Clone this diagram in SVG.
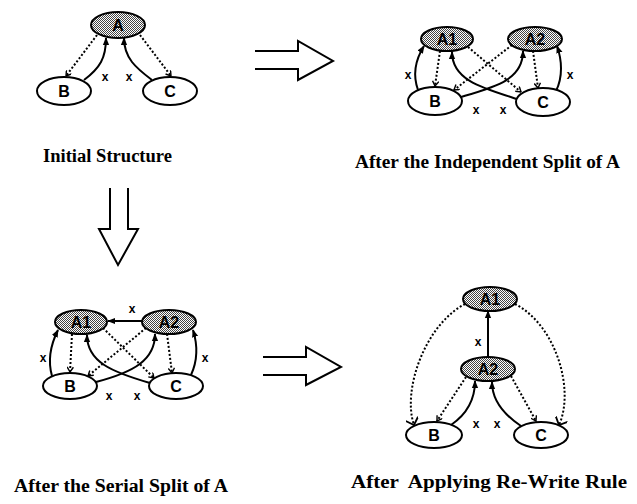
<svg xmlns="http://www.w3.org/2000/svg" width="637" height="504" viewBox="0 0 637 504">
<style>
.n{fill:#fff;stroke:#000;stroke-width:2}
.s{fill:url(#dots);stroke:#000;stroke-width:2}
.t{font-family:"Liberation Sans",Arial,sans-serif;font-size:16px;font-weight:bold;text-anchor:middle;fill:#000}
.e{fill:none;stroke:#000;stroke-width:2}
.sol{marker-end:url(#fa)}
.dot{stroke-dasharray:2 2;marker-end:url(#ch)}
.dotL{stroke-dasharray:2 2;marker-end:url(#chL)}
.x{font-family:"Liberation Sans",Arial,sans-serif;font-size:12px;font-weight:bold;text-anchor:middle}
.lbl{font-family:"Liberation Serif","Times New Roman",serif;font-weight:bold;font-size:18px}
.big{fill:none;stroke:#000;stroke-width:2;stroke-linejoin:miter}
</style>
<defs>
<pattern id="dots" width="2" height="2" patternUnits="userSpaceOnUse">
<rect width="2" height="2" fill="#fff"/>
<rect width="1" height="1" fill="#444"/>
<rect x="1" y="1" width="1" height="1" fill="#444"/>
</pattern>
<marker id="fa" viewBox="0 0 10 10" refX="9" refY="5" markerWidth="8" markerHeight="8" markerUnits="userSpaceOnUse" orient="auto">
<path d="M0,1 L10,5 L0,9 z" fill="#000"/>
</marker>
<marker id="ch" viewBox="0 0 10 10" refX="9" refY="5" markerWidth="7" markerHeight="7" markerUnits="userSpaceOnUse" orient="auto">
<path d="M2,0.5 L9,5 L2,9.5" fill="none" stroke="#000" stroke-width="2"/>
</marker>
<marker id="chL" viewBox="0 0 10 10" refX="9" refY="5" markerWidth="13" markerHeight="13" markerUnits="userSpaceOnUse" orient="auto">
<path d="M4,0 L9,5 L4,10" fill="none" stroke="#000" stroke-width="1.4"/>
</marker>
</defs>

<g id="connectors">
<!-- panel 1 -->
<path class="e dot" d="M97,35 L66,76"/>
<path class="e dot" d="M140,35 L171,76"/>
<path class="e sol" d="M84,80 C100,68 106,58 106,38"/>
<path class="e sol" d="M152,80 C136,68 124,58 124,38"/>
<!-- panel 2 -->
<path class="e sol" d="M418,90 C413,76 414,62 424,46"/>
<path class="e dot" d="M440,51 L435,86"/>
<path class="e sol" d="M517,99 C482,88 452,80 452,52"/>
<path class="e sol" d="M461,97 C495,87 523,80 523,51"/>
<path class="e dot" d="M468,47 L521,92"/>
<path class="e dot" d="M512,45 L454,90"/>
<path class="e dot" d="M533,51 L538,88"/>
<path class="e sol" d="M556,91 C563,77 562,60 557,46"/>
<!-- panel 3 -->
<path class="e sol" d="M142,321 L108,321"/>
<path class="e sol" d="M52,376 C48,362 50,346 58,330"/>
<path class="e dot" d="M72,334 L70,372"/>
<path class="e sol" d="M150,383 C112,372 87,362 87,335"/>
<path class="e sol" d="M96,382 C134,372 155,360 155,334"/>
<path class="e dot" d="M103,328 L154,378"/>
<path class="e dot" d="M146,328 L88,376"/>
<path class="e dot" d="M167,334 L172,373"/>
<path class="e sol" d="M191,375 C197,362 198,346 193,330"/>
<!-- panel 4 -->
<path class="e sol" d="M488,357 L488,311"/>
<path class="e dotL" d="M465,304 C425,325 402,390 414,425"/>
<path class="e dotL" d="M515,304 C556,325 575,390 559,425"/>
<path class="e dot" d="M466,377 L437,421"/>
<path class="e dot" d="M511,376 L536,421"/>
<path class="e sol" d="M451,425 C467,414 475,400 475,381"/>
<path class="e sol" d="M521,426 C503,414 492,400 492,382"/>
<!-- x labels -->
<text class="x" x="105" y="81">x</text>
<text class="x" x="129" y="81">x</text>
<text class="x" x="408" y="79">x</text>
<text class="x" x="570" y="79">x</text>
<text class="x" x="476" y="114">x</text>
<text class="x" x="503" y="114">x</text>
<text class="x" x="132" y="313">x</text>
<text class="x" x="43" y="362">x</text>
<text class="x" x="205" y="362">x</text>
<text class="x" x="109" y="400">x</text>
<text class="x" x="137" y="400">x</text>
<text class="x" x="478" y="346">x</text>
<text class="x" x="476" y="428">x</text>
<text class="x" x="497" y="428">x</text>
</g>

<g id="big-arrows">
<path class="big" d="M255,51 L298,51 L298,41 L333,61 L298,80 L298,69 L255,69"/>
<path class="big" d="M263,357 L306,357 L306,347 L341,367 L306,385 L306,375 L263,375"/>
<path class="big" d="M110,188 L110,229 L99,229 L118,265 L138,229 L128,229 L128,188"/>
</g>

<g id="p1-A"><ellipse class="s" cx="118" cy="25" rx="27" ry="13"/><text class="t" x="118" y="31">A</text></g>
<g id="p1-B"><ellipse class="n" cx="64" cy="91" rx="27" ry="14"/><text class="t" x="64" y="97">B</text></g>
<g id="p1-C"><ellipse class="n" cx="170" cy="91" rx="27" ry="14"/><text class="t" x="170" y="97">C</text></g>

<g id="p2-A1"><ellipse class="s" cx="447" cy="39" rx="26" ry="12"/><text class="t" x="447" y="45">A1</text></g>
<g id="p2-A2"><ellipse class="s" cx="535" cy="39" rx="27" ry="12"/><text class="t" x="535" y="45">A2</text></g>
<g id="p2-B"><ellipse class="n" cx="435" cy="101" rx="27" ry="14"/><text class="t" x="435" y="107">B</text></g>
<g id="p2-C"><ellipse class="n" cx="543" cy="102" rx="27" ry="14"/><text class="t" x="543" y="108">C</text></g>

<g id="p3-A1"><ellipse class="s" cx="81" cy="322" rx="26" ry="12"/><text class="t" x="81" y="328">A1</text></g>
<g id="p3-A2"><ellipse class="s" cx="169" cy="322" rx="27" ry="12"/><text class="t" x="169" y="328">A2</text></g>
<g id="p3-B"><ellipse class="n" cx="70" cy="386" rx="27" ry="13"/><text class="t" x="70" y="392">B</text></g>
<g id="p3-C"><ellipse class="n" cx="176" cy="386" rx="27" ry="13"/><text class="t" x="176" y="392">C</text></g>

<g id="p4-A1"><ellipse class="s" cx="490" cy="299" rx="27" ry="12"/><text class="t" x="490" y="305">A1</text></g>
<g id="p4-A2"><ellipse class="s" cx="488" cy="369" rx="27" ry="12"/><text class="t" x="488" y="375">A2</text></g>
<g id="p4-B"><ellipse class="n" cx="434" cy="435" rx="28" ry="13"/><text class="t" x="434" y="441">B</text></g>
<g id="p4-C"><ellipse class="n" cx="541" cy="435" rx="27" ry="13"/><text class="t" x="541" y="441">C</text></g>

<g id="labels">
<text class="lbl" x="43" y="162" textLength="129" lengthAdjust="spacingAndGlyphs">Initial Structure</text>
<text class="lbl" x="355" y="168" textLength="265" lengthAdjust="spacingAndGlyphs">After the Independent Split of A</text>
<text class="lbl" x="14" y="492" textLength="214" lengthAdjust="spacingAndGlyphs">After the Serial Split of A</text>
<text class="lbl" x="351" y="488" textLength="276" lengthAdjust="spacingAndGlyphs" xml:space="preserve">After  Applying Re-Write Rule</text>
</g>
</svg>
